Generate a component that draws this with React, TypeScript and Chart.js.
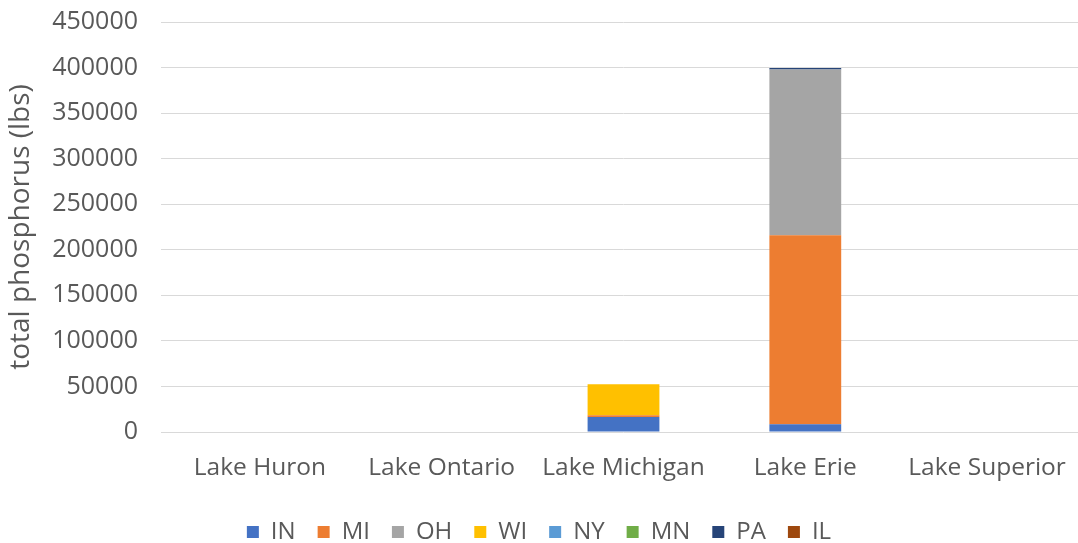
import React, { useEffect, useRef } from "react";
import { Chart, registerables } from "chart.js";

Chart.register(...registerables);

const categories = ["Lake Huron", "Lake Ontario", "Lake Michigan", "Lake Erie", "Lake Superior"];
const seriesNames = ["IN", "MI", "OH", "WI", "NY", "MN", "PA", "IL"];
const seriesColors = ["#4472C4", "#ED7D31", "#A5A5A5", "#FFC000", "#5B9BD5", "#70AD47", "#264478", "#9E480E"];
const valuesIN = [0, 0, 16500, 8500, 0];
const valuesMI = [0, 0, 2000, 207500, 0];
const valuesOH = [0, 0, 0, 182000, 0];
const valuesWI = [0, 0, 34000, 0, 0];
const valuesNY = [0, 0, 0, 0, 0];
const valuesMN = [0, 0, 0, 0, 0];
const valuesPA = [0, 0, 0, 1500, 0];
const valuesIL = [0, 0, 0, 0, 0];
const seriesValues = [valuesIN, valuesMI, valuesOH, valuesWI, valuesNY, valuesMN, valuesPA, valuesIL];
const yTicks = [0, 50000, 100000, 150000, 200000, 250000, 300000, 350000, 400000, 450000];

export default function App() {
  const ref = useRef<HTMLCanvasElement | null>(null);
  useEffect(() => {
    if (!ref.current) return;
    const font = "'Open Sans', 'Noto Sans', sans-serif";
    const chart = new Chart(ref.current, {
      type: "bar",
      data: {
        labels: categories,
        datasets: seriesNames.map((n, i) => ({
          label: n,
          data: seriesValues[i],
          backgroundColor: seriesColors[i],
          borderWidth: 0,
          categoryPercentage: 1,
          barPercentage: 0.395,
        })),
      },
      options: {
        animation: false,
        responsive: false,
        maintainAspectRatio: false,
        layout: { padding: { top: 0, right: 0, left: 0, bottom: 0 } },
        plugins: {
          tooltip: { enabled: false },
          legend: {
            position: "bottom",
            labels: {
              boxWidth: 12,
              boxHeight: 12,
              color: "#595959",
              padding: 22,
              font: { family: font, size: 24 },
            },
          },
        },
        scales: {
          x: {
            stacked: true,
            grid: { display: false, drawTicks: true, tickLength: 11 },
            border: { display: false },
            ticks: { color: "#595959", font: { family: font, size: 24.5 }, padding: 10 },
            afterFit: (s: any) => {
              s.height = 66;
            },
          },
          y: {
            stacked: true,
            min: 0,
            max: 450000,
            afterBuildTicks: (s: any) => {
              s.ticks = yTicks.map((v) => ({ value: v }));
            },
            afterFit: (s: any) => {
              s.width = 169;
            },
            grid: { color: "#d9d9d9", lineWidth: 1, tickLength: 8, tickColor: "#d9d9d9" },
            border: { display: false },
            ticks: { color: "#595959", font: { family: font, size: 25 }, padding: 23, callback: (v: any) => String(v) },
            title: { display: true, text: "total phosphorus (lbs)", color: "#595959", font: { family: font, size: 28 }, padding: { top: 4, bottom: 0 } },
          },
        },
      },
    });
    return () => chart.destroy();
  }, []);
  return (
    <div style={{ position: "fixed", left: 0, top: 0, width: 1078, height: 543, overflow: "hidden", background: "#fff" }}>
      <canvas ref={ref} width={1078} height={570} style={{ position: "absolute", left: 0, top: -16 }} />
    </div>
  );
}
